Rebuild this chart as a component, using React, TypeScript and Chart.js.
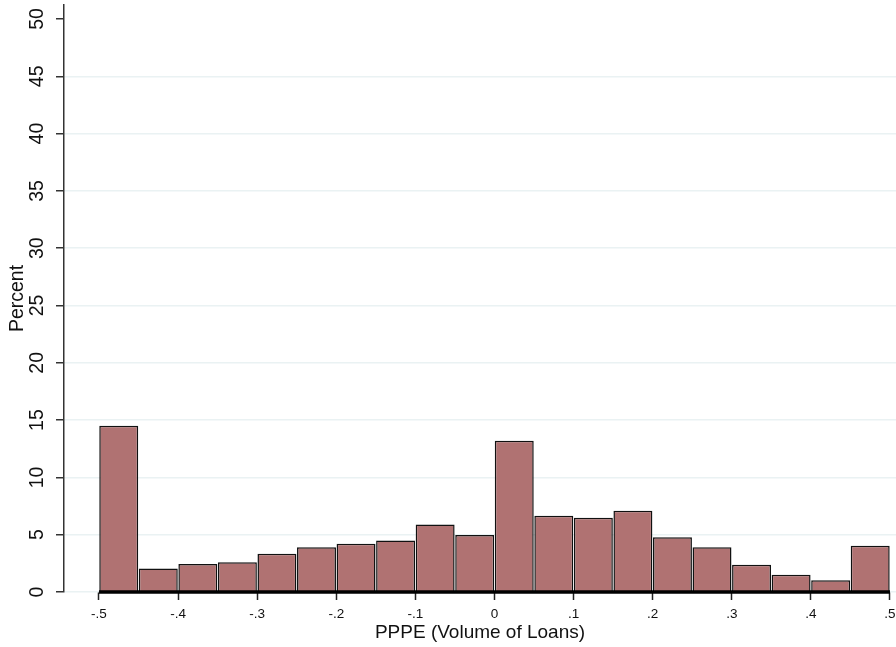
import React, { useEffect, useRef } from "react";
import { Chart, registerables } from "chart.js";

Chart.register(...registerables);

const binStarts = [-0.5, -0.45, -0.4, -0.35, -0.3, -0.25, -0.2, -0.15, -0.1, -0.05, 0, 0.05, 0.1, 0.15, 0.2, 0.25, 0.3, 0.35, 0.4, 0.45];
const binWidth = 0.05;
const percents = [14.5, 2.05, 2.45, 2.6, 3.34, 3.9, 4.2, 4.5, 5.9, 4.97, 13.2, 6.66, 6.48, 7.1, 4.77, 3.9, 2.38, 1.51, 1.02, 4.04];
const xTickValues = [-0.5, -0.4, -0.3, -0.2, -0.1, 0, 0.1, 0.2, 0.3, 0.4, 0.5];
const xTickLabels = ["-.5", "-.4", "-.3", "-.2", "-.1", "0", ".1", ".2", ".3", ".4", ".5"];
const yTickValues = [0, 5, 10, 15, 20, 25, 30, 35, 40, 45, 50];

const FONT = "'Liberation Sans', Arial, Helvetica, sans-serif";

export default function App() {
  const ref = useRef<HTMLCanvasElement | null>(null);
  useEffect(() => {
    document.body.style.margin = "0";
    const canvas = ref.current;
    if (!canvas) return;
    const barData = binStarts.map((s, i) => ({ x: s + binWidth / 2, y: percents[i] }));
    const chart = new Chart(canvas, {
      type: "bar",
      data: {
        datasets: [
          {
            type: "line",
            data: [
              { x: xTickValues[0], y: 0 },
              { x: xTickValues[xTickValues.length - 1], y: 0 },
            ],
            borderColor: "#000",
            borderWidth: 3.5,
            pointRadius: 0,
            clip: false,
            order: 0,
          } as any,
          {
            type: "bar",
            data: barData,
            backgroundColor: "#b07272",
            borderColor: "#111",
            borderWidth: 1.5,
            barPercentage: 0.985,
            categoryPercentage: 1,
            grouped: false,
            order: 1,
          } as any,
        ],
      },
      options: {
        responsive: false,
        animation: false,
        events: [],
        layout: { padding: { top: 5, right: 0, left: 0, bottom: 0 } },
        plugins: { legend: { display: false }, tooltip: { enabled: false }, title: { display: false } },
        scales: {
          x: {
            type: "linear",
            min: -0.5442,
            max: 0.5076,
            offset: false,
            border: { display: false },
            grid: { offset: false, drawOnChartArea: false, drawTicks: true, tickLength: 8, tickColor: "#222", tickWidth: 1.5 },
            afterBuildTicks: (scale: any) => {
              scale.ticks = xTickValues.map((v) => ({ value: v }));
            },
            ticks: {
              font: { family: FONT, size: 13.5 },
              color: "#111",
              padding: 6,
              maxRotation: 0,
              minRotation: 0,
              callback: (v: any) => {
                const i = xTickValues.findIndex((t) => Math.abs(t - Number(v)) < 1e-6);
                return i >= 0 ? xTickLabels[i] : "";
              },
            },
            title: {
              display: true,
              text: "PPPE (Volume of Loans)",
              font: { family: FONT, size: 19 },
              color: "#111",
              padding: { top: 0, bottom: 3 },
            },
            afterFit: (scale: any) => {
              scale.height = 55;
              scale.paddingLeft = 0;
              scale.paddingRight = 0;
            },
          },
          y: {
            type: "linear",
            min: 0,
            max: 51.22,
            border: { display: true, color: "#333", width: 1.5 },
            grid: {
              color: (ctx: any) => (ctx.tick && ctx.tick.value === 50 ? "rgba(0,0,0,0)" : "#eaf2f3"),
              lineWidth: 1.5,
              drawTicks: true,
              tickLength: 8,
              tickColor: "#333",
              tickWidth: 1.5,
            },
            afterBuildTicks: (scale: any) => {
              scale.ticks = yTickValues.map((v) => ({ value: v }));
            },
            ticks: {
              font: { family: FONT, size: 19.5 },
              color: "#111",
              padding: 7.5,
              minRotation: 90,
              maxRotation: 90,
              crossAlign: "center",
              callback: (v: any) => String(v),
            },
            title: {
              display: true,
              text: "Percent",
              font: { family: FONT, size: 19.5 },
              color: "#111",
              padding: { top: 6, bottom: 0 },
            },
            afterFit: (scale: any) => {
              scale.width = 64;
              scale.paddingTop = 0;
              scale.paddingBottom = 0;
            },
          },
        },
      },
    } as any);
    return () => chart.destroy();
  }, []);
  return (
    <div style={{ width: 896, height: 647, background: "#fff" }}>
      <canvas ref={ref} width={896} height={647} style={{ display: "block" }} />
    </div>
  );
}
